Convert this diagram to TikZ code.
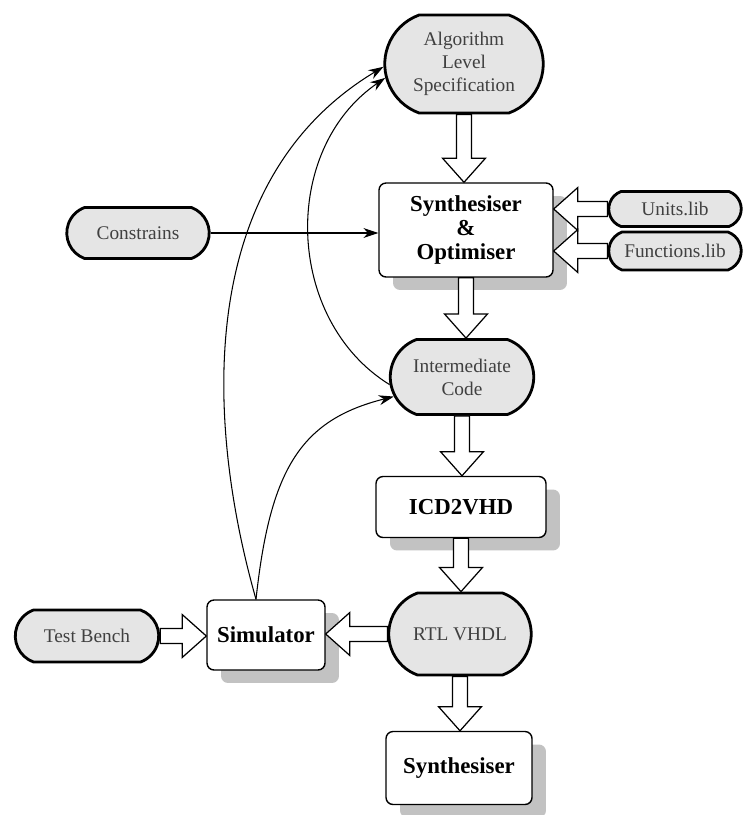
\documentclass[tikz,border=0pt]{standalone}
\usepackage{fontspec}
\setmainfont{Liberation Serif}
\usetikzlibrary{arrows.meta,calc,shapes.misc,shadows}

\tikzset{
  store/.style={rounded rectangle, rounded rectangle arc length=140, draw,
    line width=1.6pt, fill=black!10, text=black!75, align=center,
    font=\fontsize{11}{13}\selectfont, inner sep=1pt},
  tool/.style={rectangle, rounded corners=0.14cm, draw, line width=0.8pt,
    fill=white, align=center, font=\fontsize{13}{13.5}\selectfont\bfseries,
    drop shadow={shadow xshift=0.28cm, shadow yshift=-0.26cm, fill=black!24, opacity=1}},
  flow/.style={-{Stealth[length=0.3cm,width=0.2cm]}, line width=0.6pt},
  % hollow block arrow between two points
  fat/.style={draw, line width=0.7pt, fill=white, to path={
    let \p1=(\tikztostart), \p2=(\tikztotarget),
        \n1={veclen(\x2-\x1,\y2-\y1)},
        \n2={(\x2-\x1)/\n1}, \n3={(\y2-\y1)/\n1},
        \p3=({\x2-\n2*13.7pt},{\y2-\n3*13.7pt})
    in ({\x1-\n3*4.3pt},{\y1+\n2*4.3pt})
       -- ({\x3-\n3*4.3pt},{\y3+\n2*4.3pt})
       -- ({\x3-\n3*12.2pt},{\y3+\n2*12.2pt})
       -- (\p2)
       -- ({\x3+\n3*12.2pt},{\y3-\n2*12.2pt})
       -- ({\x3+\n3*4.3pt},{\y3-\n2*4.3pt})
       -- ({\x1+\n3*4.3pt},{\y1-\n2*4.3pt})
       -- cycle}},
}

\begin{document}
\begin{tikzpicture}[x=0.02cm,y=-0.02cm]
    \useasboundingbox (0,0) rectangle (746,815);

    % data and libraries
    \node[store, minimum width=3.24cm, minimum height=1.96cm] (alg) at (464,64) {Algorithm\\Level\\Specification};
    \node[store, minimum width=2.92cm, minimum height=1.02cm] (constr) at (138,233) {Constrains};
    \node[store, minimum width=2.72cm, minimum height=0.70cm] (units) at (675,209) {Units.lib};
    \node[store, minimum width=2.72cm, minimum height=0.76cm] (funcs) at (675,251) {Functions.lib};
    \node[store, minimum width=2.94cm, minimum height=1.50cm] (ic) at (462,377) {Intermediate\\Code};
    \node[store, minimum width=2.92cm, minimum height=1.64cm] (rtl) at (460,634) {RTL VHDL};
    \node[store, minimum width=2.94cm, minimum height=1.04cm] (tb) at (87,636) {Test Bench};

    % tools
    \node[tool, minimum width=3.48cm, minimum height=1.88cm] (synopt) at (466,230) {Synthesiser\\\&\\Optimiser};
    \node[tool, minimum width=3.40cm, minimum height=1.22cm] (icd) at (461,507) {ICD2VHD};
    \node[tool, minimum width=2.36cm, minimum height=1.40cm] (sim) at (266,635) {Simulator};
    \node[tool, minimum width=2.92cm, minimum height=1.46cm] (synth) at (459,768) {Synthesiser};

    % main flow
    \path[fat] (alg.south) to (alg.south |- synopt.north);
    \path[fat] (synopt.south) to (synopt.south |- ic.north);
    \path[fat] (ic.south) to (ic.south |- icd.north);
    \path[fat] (icd.south) to (icd.south |- rtl.north);
    \path[fat] (rtl.south) to (rtl.south |- synth.north);
    \path[fat] (units.west) to (units.west -| synopt.east);
    \path[fat] (funcs.west) to (funcs.west -| synopt.east);
    \path[fat] (tb.east) to (tb.east -| sim.west);
    \path[fat] (rtl.west) to (rtl.west -| sim.east);

    % feedback
    \draw[flow] (constr.east) -- (constr.east -| synopt.west);
    \draw[flow] ([xshift=-0.2cm]sim.north) .. controls (205,420) and (195,180) .. (alg.182);
    \draw[flow] (ic.186) .. controls (285,320) and (280,150) .. (alg.190);
    \draw[flow] ([xshift=-0.2cm]sim.north) .. controls (270,470) and (300,420) .. (ic.196);
\end{tikzpicture}
\end{document}
